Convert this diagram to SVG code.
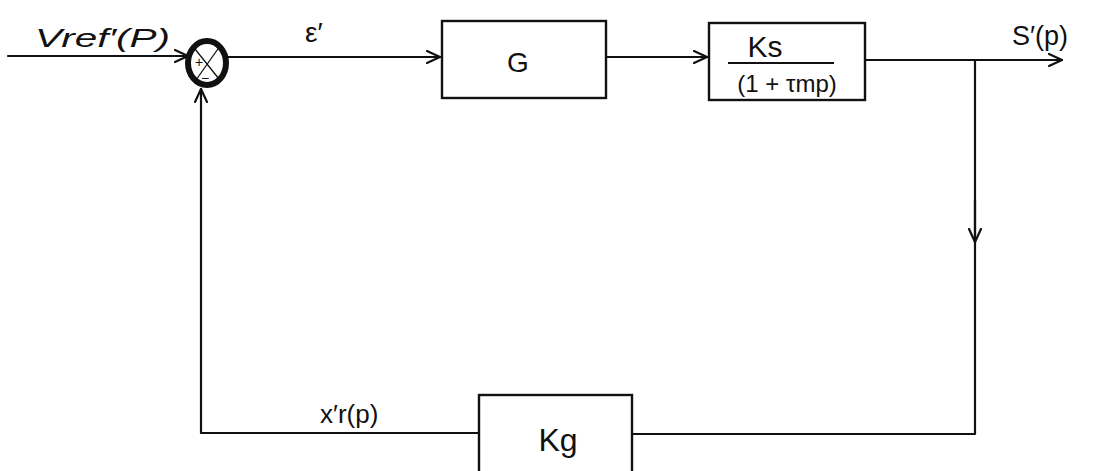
<svg xmlns="http://www.w3.org/2000/svg" width="1095" height="471" viewBox="0 0 1095 471">
<defs>
<style>
.ln{fill:none;stroke:#111;stroke-width:2.2;stroke-linecap:round;stroke-linejoin:round}
.box{fill:#fff;stroke:#111;stroke-width:2.4}
.t{font-family:"Liberation Sans","DejaVu Sans",sans-serif;fill:#111}
</style>
<marker id="ah" markerWidth="16" markerHeight="14" refX="14" refY="7" orient="auto" markerUnits="userSpaceOnUse">
<path d="M1,1 L14,7 L1,13" fill="none" stroke="#111" stroke-width="2.2" stroke-linecap="round" stroke-linejoin="round"/>
</marker>
</defs>
<rect width="1095" height="471" fill="#fff"/>
<g id="connectors">
<line class="ln" x1="8" y1="56" x2="188" y2="56" marker-end="url(#ah)"/>
<line class="ln" x1="226" y1="57" x2="440" y2="57" marker-end="url(#ah)"/>
<line class="ln" x1="606" y1="57" x2="707" y2="57" marker-end="url(#ah)"/>
<line class="ln" x1="866" y1="60" x2="1062" y2="60" marker-end="url(#ah)"/>
<polyline class="ln" points="975,60 975,434 633,434"/>
<line class="ln" x1="975" y1="200" x2="975" y2="242" marker-end="url(#ah)"/>
<polyline class="ln" points="479,433 201,433 201,89" marker-end="url(#ah)"/>
</g>
<g id="sum">
<ellipse cx="207" cy="63" rx="19" ry="22" fill="#fff" stroke="#111" stroke-width="6"/>
<line x1="220" y1="46" x2="196" y2="80" stroke="#111" stroke-width="1.3"/>
<line x1="195" y1="49" x2="219" y2="79" stroke="#111" stroke-width="1.3"/>
<text class="t" x="195" y="67" font-size="14">+</text>
<text class="t" x="201" y="83" font-size="14">−</text>
</g>
<g id="in-label"><text class="t" x="35" y="47" font-size="26" font-style="italic" textLength="135" lengthAdjust="spacingAndGlyphs">Vref′(P)</text></g>
<g id="eps-label"><text class="t" x="305" y="42" font-size="28">ε′</text></g>
<g id="G">
<rect class="box" x="442" y="21" width="164" height="77"/>
<text class="t" x="518" y="72" font-size="28" text-anchor="middle">G</text>
</g>
<g id="Ks">
<rect class="box" x="709" y="23" width="156" height="77"/>
<text class="t" x="765" y="57" font-size="30" text-anchor="middle">Ks</text>
<line x1="728" y1="63" x2="834" y2="63" stroke="#111" stroke-width="2"/>
<text class="t" x="787" y="92" font-size="24" text-anchor="middle">(1 + τmp)</text>
</g>
<g id="out-label"><text class="t" x="1012" y="45" font-size="27">S′(p)</text></g>
<g id="Kg">
<rect class="box" x="479" y="395" width="153" height="80"/>
<text class="t" x="558" y="451" font-size="32" text-anchor="middle">Kg</text>
</g>
<g id="fb-label"><text class="t" x="320" y="423" font-size="26">x′r(p)</text></g>
</svg>
